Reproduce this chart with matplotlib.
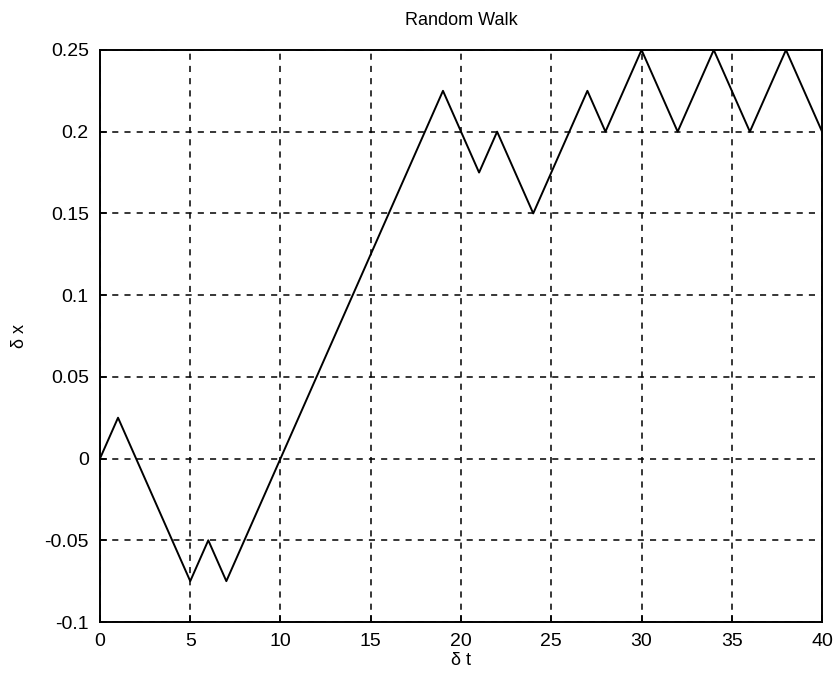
import matplotlib
matplotlib.use('Agg')
import matplotlib.pyplot as plt

# random walk, step 0.025 per unit time
t = list(range(0, 41))
x = [0, 0.025, 0, -0.025, -0.05, -0.075, -0.05, -0.075, -0.05, -0.025,
     0, 0.025, 0.05, 0.075, 0.1, 0.125, 0.15, 0.175, 0.2, 0.225,
     0.2, 0.175, 0.2, 0.175, 0.15, 0.175, 0.2, 0.225, 0.2, 0.225,
     0.25, 0.225, 0.2, 0.225, 0.25, 0.225, 0.2, 0.225, 0.25, 0.225, 0.2]

xticks = [0, 5, 10, 15, 20, 25, 30, 35, 40]
yticks = [-0.1, -0.05, 0, 0.05, 0.1, 0.15, 0.2, 0.25]
ytick_labels = ['-0.1', '-0.05', '0', '0.05', '0.1', '0.15', '0.2', '0.25']

plt.rcParams['font.family'] = ['Liberation Sans', 'DejaVu Sans']

fig = plt.figure(figsize=(8.38, 6.75), dpi=100)
ax = fig.add_axes([0.1193, 0.0785, 0.8617, 0.8475])

ax.plot(t, x, color='black', linewidth=1.4)
ax.set_xlim(0, 40)
ax.set_ylim(-0.1, 0.25)
ax.set_xticks(xticks)
ax.set_yticks(yticks)
ax.set_yticklabels(ytick_labels)
ax.tick_params(direction='in', labelsize=14, length=5, width=1.2)
ax.tick_params(axis='x', pad=8)
ax.tick_params(axis='y', pad=8)
ax.grid(True, color='black', linestyle=(0, (4, 4)), linewidth=1.1)
for s in ax.spines.values():
    s.set_linewidth(1.4)

ax.set_title('Random Walk', fontsize=13, pad=18)
ax.set_xlabel('δ t', fontsize=13, labelpad=1)
ax.set_ylabel('δ x', fontsize=13, labelpad=12)

fig.savefig('out.png', dpi=100)
